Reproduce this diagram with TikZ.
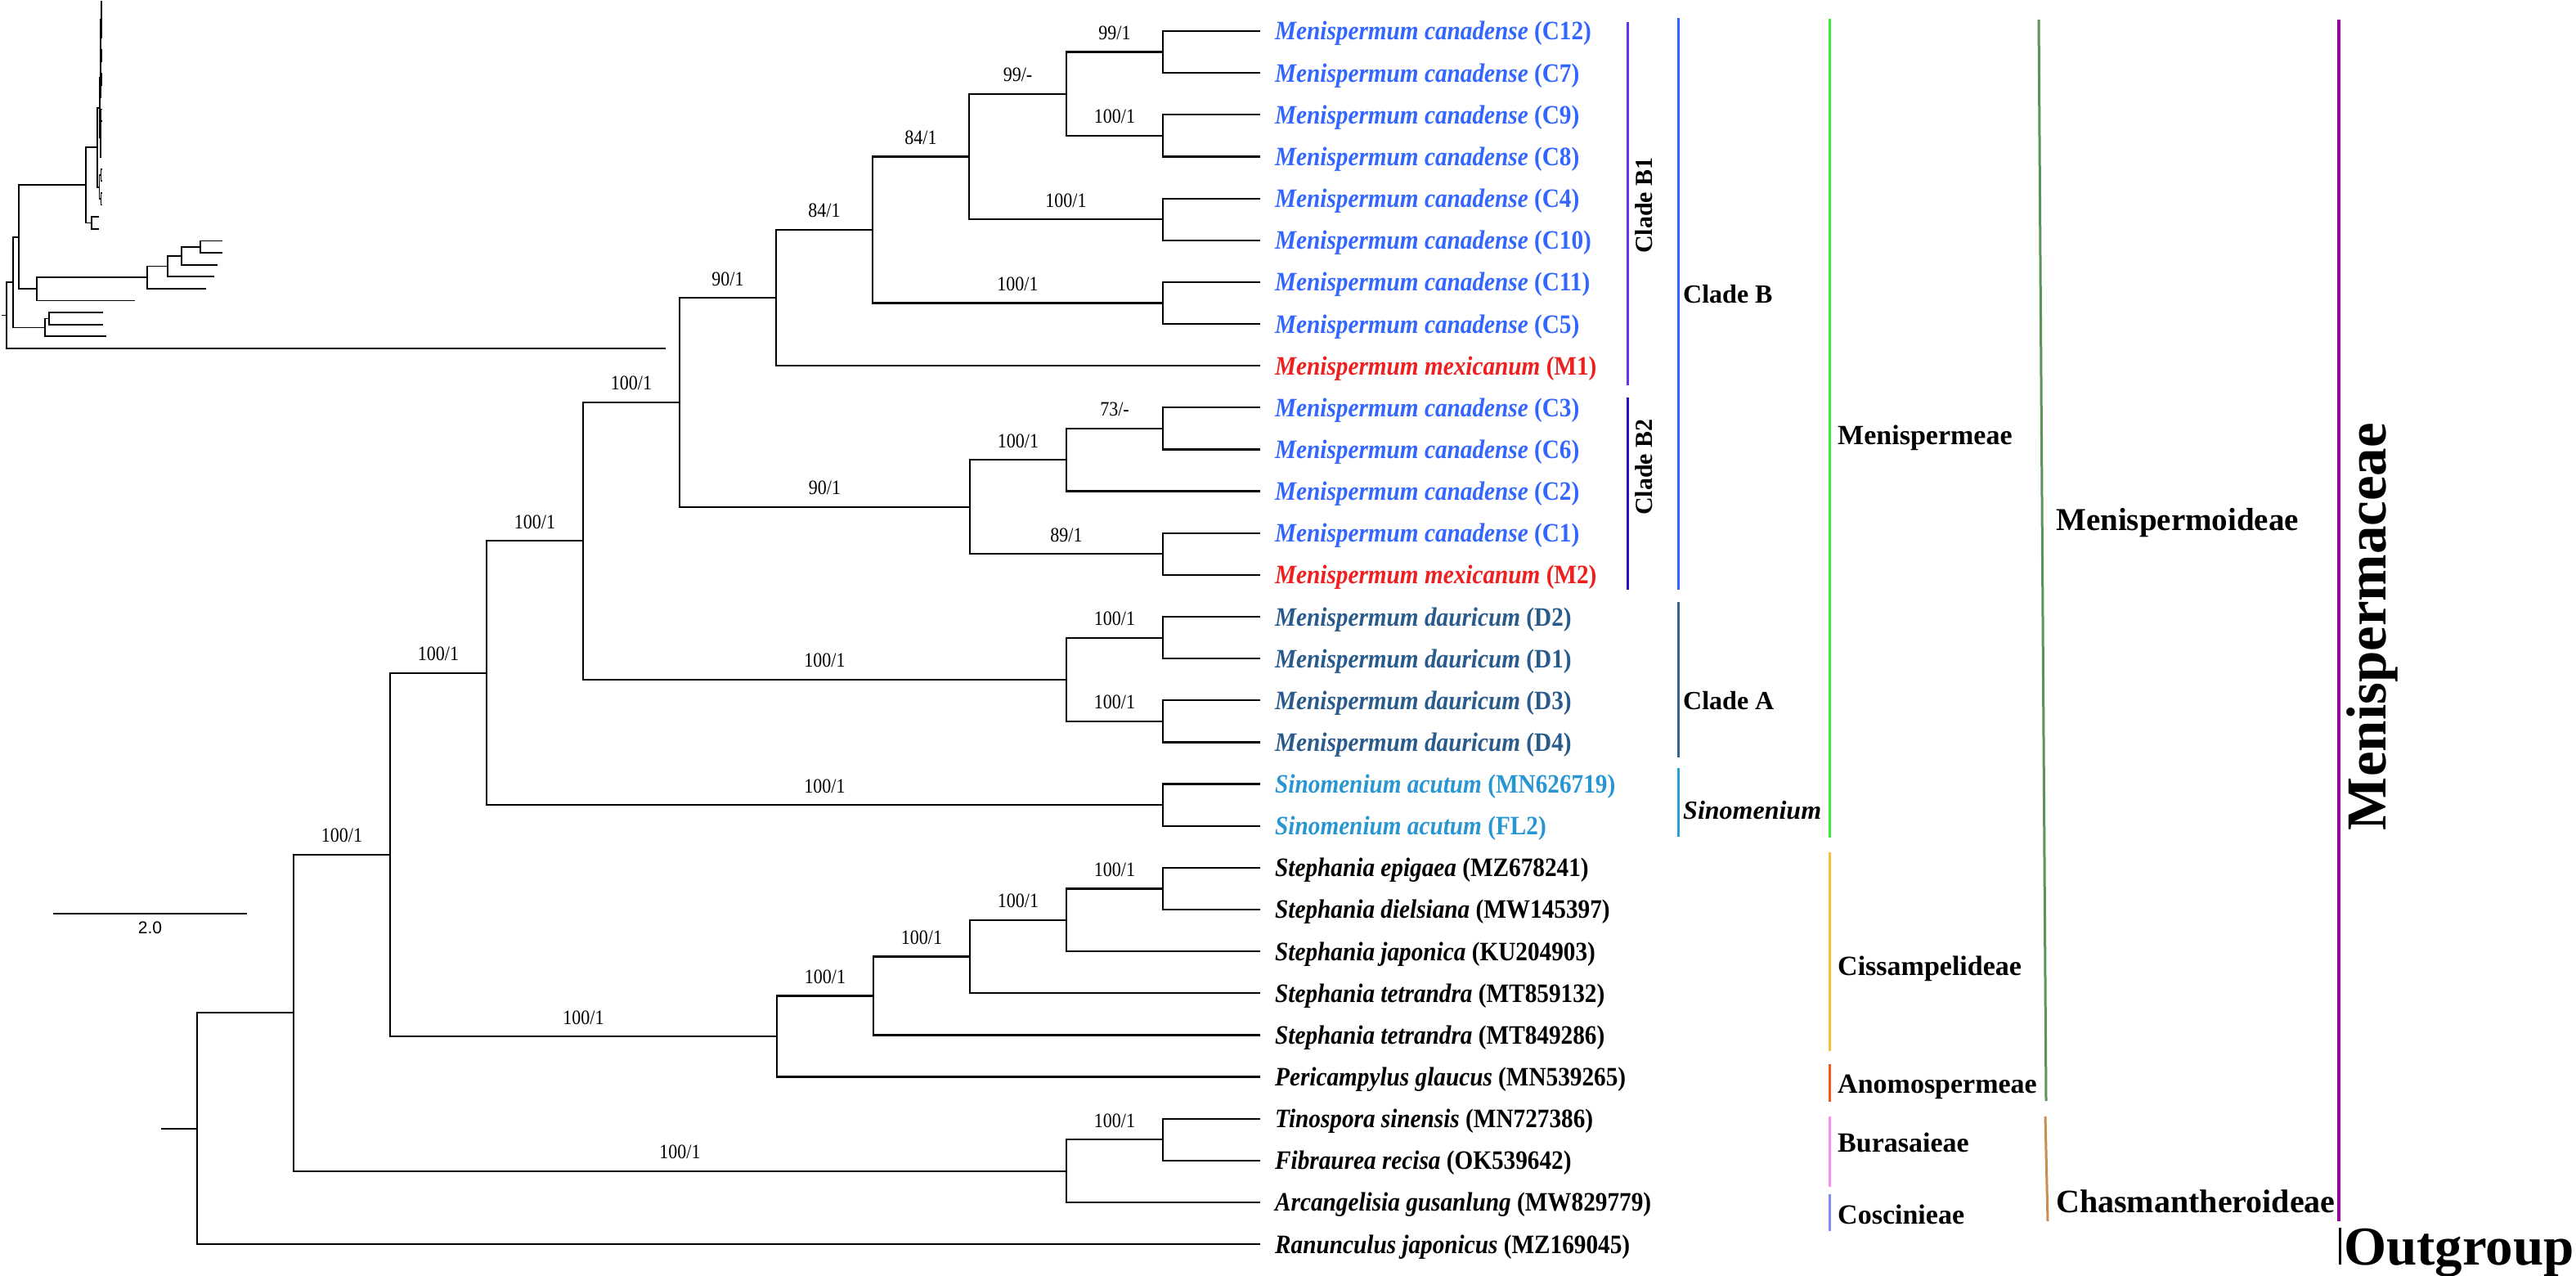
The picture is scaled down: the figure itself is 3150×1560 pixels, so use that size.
\documentclass[tikz,border=0pt]{standalone}
\usepackage{fontspec}
\setmainfont{Liberation Serif}
\newfontfamily\arialfont{Liberation Sans}
\newfontfamily\leaffont[FakeStretch=0.9]{Liberation Serif}
\newfontfamily\bsfont[FakeStretch=0.88]{Liberation Serif}
\usetikzlibrary{calc}
\definecolor{cCan}{RGB}{51,102,255}
\definecolor{cMex}{RGB}{240,30,30}
\definecolor{cDau}{RGB}{40,90,140}
\definecolor{cSin}{RGB}{40,150,210}
\definecolor{bBone}{RGB}{100,50,240}
\definecolor{bB}{RGB}{50,100,255}
\definecolor{bBtwo}{RGB}{35,15,200}
\definecolor{bA}{RGB}{50,100,150}
\definecolor{bSin}{RGB}{40,160,220}
\definecolor{bMen}{RGB}{60,235,60}
\definecolor{bCis}{RGB}{250,190,50}
\definecolor{bAno}{RGB}{245,85,30}
\definecolor{bBur}{RGB}{250,140,240}
\definecolor{bCos}{RGB}{130,140,240}
\definecolor{bMoi}{RGB}{90,150,90}
\definecolor{bCha}{RGB}{205,140,80}
\definecolor{bFam}{RGB}{150,0,150}
\newcommand\tleaf[5]{\coordinate (#1) at (1541,#2);
  \node[leaflab,text=#3] (#1t) at (1559,#2) {\textbf{\textit{#4}} \textbf{(#5)}};}
\newcommand\bsl[3]{\path (#1 |- #2) -- node[bslab]{#3} (#2);}
\newcommand\ibr[2]{\draw[ibr] (#1) |- (#2);}
\begin{document}
\begin{tikzpicture}[x=1pt,y=-1pt,
  br/.style={line width=2.2pt},
  ibr/.style={line width=1.8pt},
  leaflab/.style={anchor=base west,yshift=-11pt,inner sep=0pt,font=\leaffont\fontsize{32.5}{36}\selectfont},
  bslab/.style={anchor=base,yshift=15pt,inner sep=0pt,font=\bsfont\fontsize{25}{28}\selectfont},
  cbar/.style={line width=3pt},
  grplab/.style={anchor=base west,inner sep=0pt,font=\fontsize{32}{36}\selectfont\bfseries},
  triblab/.style={anchor=base west,inner sep=0pt,font=\fontsize{34}{38}\selectfont\bfseries},
  sublab/.style={anchor=base west,inner sep=0pt,font=\fontsize{39}{44}\selectfont\bfseries}]
\fill[white] (0,0) rectangle (3150,1560);
\useasboundingbox (0,0) rectangle (3150,1560);
% ---------- leaves ----------
\tleaf{l0}{38.0}{cCan}{Menispermum canadense}{C12}
\tleaf{l1}{89.1}{cCan}{Menispermum canadense}{C7}
\tleaf{l2}{140.3}{cCan}{Menispermum canadense}{C9}
\tleaf{l3}{191.4}{cCan}{Menispermum canadense}{C8}
\tleaf{l4}{242.6}{cCan}{Menispermum canadense}{C4}
\tleaf{l5}{293.7}{cCan}{Menispermum canadense}{C10}
\tleaf{l6}{344.8}{cCan}{Menispermum canadense}{C11}
\tleaf{l7}{396.0}{cCan}{Menispermum canadense}{C5}
\tleaf{l8}{447.1}{cMex}{Menispermum mexicanum}{M1}
\tleaf{l9}{498.3}{cCan}{Menispermum canadense}{C3}
\tleaf{l10}{549.4}{cCan}{Menispermum canadense}{C6}
\tleaf{l11}{600.5}{cCan}{Menispermum canadense}{C2}
\tleaf{l12}{651.7}{cCan}{Menispermum canadense}{C1}
\tleaf{l13}{702.8}{cMex}{Menispermum mexicanum}{M2}
\tleaf{l14}{754.0}{cDau}{Menispermum dauricum}{D2}
\tleaf{l15}{805.1}{cDau}{Menispermum dauricum}{D1}
\tleaf{l16}{856.2}{cDau}{Menispermum dauricum}{D3}
\tleaf{l17}{907.4}{cDau}{Menispermum dauricum}{D4}
\tleaf{l18}{958.5}{cSin}{Sinomenium acutum}{MN626719}
\tleaf{l19}{1009.7}{cSin}{Sinomenium acutum}{FL2}
\tleaf{l20}{1060.8}{black}{Stephania epigaea}{MZ678241}
\tleaf{l21}{1111.9}{black}{Stephania dielsiana}{MW145397}
\tleaf{l22}{1163.1}{black}{Stephania japonica}{KU204903}
\tleaf{l23}{1214.2}{black}{Stephania tetrandra}{MT859132}
\tleaf{l24}{1265.4}{black}{Stephania tetrandra}{MT849286}
\tleaf{l25}{1316.5}{black}{Pericampylus glaucus}{MN539265}
\tleaf{l26}{1367.6}{black}{Tinospora sinensis}{MN727386}
\tleaf{l27}{1418.8}{black}{Fibraurea recisa}{OK539642}
\tleaf{l28}{1469.9}{black}{Arcangelisia gusanlung}{MW829779}
\tleaf{l29}{1521.1}{black}{Ranunculus japonicus}{MZ169045}
% ---------- internal nodes ----------
\coordinate (nCa) at (1422,63.6);
\coordinate (nCb) at (1422,165.9);
\coordinate (nC99) at (1304,114.7);
\coordinate (nCc) at (1422,268.2);
\coordinate (nC84a) at (1185,191.4);
\coordinate (nCd) at (1422,370.4);
\coordinate (nC84b) at (1067,280.9);
\coordinate (nC90) at (949,364.0);
\coordinate (nC73) at (1422,523.9);
\coordinate (nBtwoa) at (1304,562.2);
\coordinate (nC89) at (1422,677.3);
\coordinate (nBtwo) at (1186,619.7);
\coordinate (nB) at (831,491.9);
\coordinate (nDa) at (1422,779.6);
\coordinate (nDb) at (1422,881.8);
\coordinate (nA) at (1304,830.7);
\coordinate (nBA) at (713,661.3);
\coordinate (nSino) at (1422,984.1);
\coordinate (nMen) at (595,822.7);
\coordinate (nSta) at (1422,1086.4);
\coordinate (nStb) at (1304,1124.7);
\coordinate (nStc) at (1186,1169.5);
\coordinate (nStd) at (1068,1217.4);
\coordinate (nCiss) at (950,1267.0);
\coordinate (nMC) at (477,1044.8);
\coordinate (nTF) at (1422,1393.2);
\coordinate (nChas) at (1304,1431.6);
\coordinate (nIn) at (359,1238.2);
\coordinate (nRoot) at (241,1379.6);
\coordinate (rstub) at (197,1379.6);
% ---------- branches ----------
\foreach \p/\c in {nCa/l0,nCa/l1,nCb/l2,nCb/l3,nC99/nCa,nC99/nCb,nCc/l4,nCc/l5,
  nC84a/nC99,nC84a/nCc,nCd/l6,nCd/l7,nC84b/nC84a,nC84b/nCd,nC90/nC84b,nC90/l8,
  nC73/l9,nC73/l10,nBtwoa/nC73,nBtwoa/l11,nC89/l12,nC89/l13,nBtwo/nBtwoa,nBtwo/nC89,
  nB/nC90,nB/nBtwo,nDa/l14,nDa/l15,nDb/l16,nDb/l17,nA/nDa,nA/nDb,nBA/nB,nBA/nA,
  nSino/l18,nSino/l19,nMen/nBA,nMen/nSino,nSta/l20,nSta/l21,nStb/nSta,nStb/l22,
  nStc/nStb,nStc/l23,nStd/nStc,nStd/l24,nCiss/nStd,nCiss/l25,nMC/nMen,nMC/nCiss,
  nTF/l26,nTF/l27,nChas/nTF,nChas/l28,nIn/nMC,nIn/nChas,nRoot/nIn,nRoot/l29}
  {\draw[br] (\p) |- (\c);}
\draw[br] (rstub) -- (nRoot);
% ---------- support values ----------
\bsl{nC99}{nCa}{99/1}
\bsl{nC99}{nCb}{100/1}
\bsl{nC84a}{nC99}{99/-}
\bsl{nC84a}{nCc}{100/1}
\bsl{nC84b}{nC84a}{84/1}
\bsl{nC84b}{nCd}{100/1}
\bsl{nC90}{nC84b}{84/1}
\bsl{nB}{nC90}{90/1}
\bsl{nBtwoa}{nC73}{73/-}
\bsl{nBtwo}{nBtwoa}{100/1}
\bsl{nBtwo}{nC89}{89/1}
\bsl{nB}{nBtwo}{90/1}
\bsl{nBA}{nB}{100/1}
\bsl{nA}{nDa}{100/1}
\bsl{nA}{nDb}{100/1}
\bsl{nBA}{nA}{100/1}
\bsl{nMen}{nBA}{100/1}
\bsl{nMen}{nSino}{100/1}
\bsl{nMC}{nMen}{100/1}
\bsl{nStb}{nSta}{100/1}
\bsl{nStc}{nStb}{100/1}
\bsl{nStd}{nStc}{100/1}
\bsl{nCiss}{nStd}{100/1}
\bsl{nMC}{nCiss}{100/1}
\bsl{nIn}{nMC}{100/1}
\bsl{nChas}{nTF}{100/1}
\bsl{nIn}{nChas}{100/1}
% ---------- scale bar ----------
\coordinate (sba) at (65,1117);
\coordinate (sbb) at (302,1117);
\draw[line width=2pt] (sba) -- node[below=9pt,inner sep=0pt,font=\arialfont\fontsize{21}{24}\selectfont] (sbl) {2.0} (sbb);
% ---------- inset phylogram ----------
\begin{scope}
\coordinate (i0) at (124.5,2); \coordinate (i1) at (124.5,16.62);
\coordinate (i2) at (124.4,31.24); \coordinate (i3) at (124.4,45.86);
\coordinate (i4) at (124.3,60.48); \coordinate (i5) at (124.3,75.10);
\coordinate (i6) at (124.2,89.72); \coordinate (i7) at (124.2,104.34);
\coordinate (i8) at (124,118.96); \coordinate (i9) at (124,133.58);
\coordinate (i10) at (124,148.2); \coordinate (i11) at (123.8,162.82);
\coordinate (i12) at (123.8,177.44); \coordinate (i13) at (123.6,192.06);
\coordinate (i14) at (124,206.68); \coordinate (i15) at (124,221.3);
\coordinate (i16) at (124,235.92); \coordinate (i17) at (124,250.54);
\coordinate (i18) at (121,265.16); \coordinate (i19) at (121,279.78);
\coordinate (i20) at (272,294.4); \coordinate (i21) at (272,309.02);
\coordinate (i22) at (266,323.64); \coordinate (i23) at (262,338.26);
\coordinate (i24) at (252,352.88); \coordinate (i25) at (165,367.5);
\coordinate (i26) at (126,382.12); \coordinate (i27) at (126,396.74);
\coordinate (i28) at (130,411.36); \coordinate (i29) at (814,425.98);
\coordinate (jCa) at (124,9.31); \coordinate (jCb) at (124,38.55);
\coordinate (jC99) at (123.6,23.93); \coordinate (jCc) at (123.8,67.79);
\coordinate (jC84a) at (123.3,45.86); \coordinate (jCd) at (123.8,97.03);
\coordinate (jC84b) at (123,71.45); \coordinate (jC90) at (122.6,95.2);
\coordinate (jC73) at (123.5,140.89); \coordinate (jBtwoa) at (123.2,151.86);
\coordinate (jC89) at (123.3,184.75); \coordinate (jBtwo) at (122.8,168.3);
\coordinate (jB) at (122,131.75); \coordinate (jDa) at (123.5,213.99);
\coordinate (jDb) at (123.5,243.23); \coordinate (jA) at (121.5,228.61);
\coordinate (jBA) at (119,180.18); \coordinate (jSino) at (112,272.47);
\coordinate (jMen) at (105,226.33); \coordinate (jSta) at (245,301.71);
\coordinate (jStb) at (222,312.68); \coordinate (jStc) at (205,325.47);
\coordinate (jStd) at (180,339.18); \coordinate (jCiss) at (45,353.34);
\coordinate (jMC) at (23,289.84); \coordinate (jTF) at (60,389.43);
\coordinate (jChas) at (55,400.4); \coordinate (jIn) at (16,345.12);
\coordinate (jRoot) at (8,385.55); \coordinate (jstub) at (2,385.55);
\foreach \p/\c in {jCa/i0,jCa/i1,jCb/i2,jCb/i3,jC99/jCa,jC99/jCb,jCc/i4,jCc/i5,
  jC84a/jC99,jC84a/jCc,jCd/i6,jCd/i7,jC84b/jC84a,jC84b/jCd,jC90/jC84b,jC90/i8,
  jC73/i9,jC73/i10,jBtwoa/jC73,jBtwoa/i11,jC89/i12,jC89/i13,jBtwo/jBtwoa,jBtwo/jC89,
  jB/jC90,jB/jBtwo,jDa/i14,jDa/i15,jDb/i16,jDb/i17,jA/jDa,jA/jDb,jBA/jB,jBA/jA,
  jSino/i18,jSino/i19,jMen/jBA,jMen/jSino,jSta/i20,jSta/i21,jStb/jSta,jStb/i22,
  jStc/jStb,jStc/i23,jStd/jStc,jStd/i24,jCiss/jStd,jCiss/i25,jMC/jMen,jMC/jCiss,
  jTF/i26,jTF/i27,jChas/jTF,jChas/i28,jIn/jMC,jIn/jChas,jRoot/jIn,jRoot/i29}
  {\ibr{\p}{\c}}
\draw[ibr] (jstub) -- (jRoot);
\end{scope}
% ---------- clade bars ----------
\coordinate (bBonea) at (1990,27); \coordinate (bBoneb) at (1990,471);
\draw[cbar,bBone] (bBonea) -- (bBoneb);
\node[rotate=90,inner sep=0pt,font=\fontsize{30}{34}\selectfont\bfseries] (tBone) at (2010,251) {Clade B1};
\coordinate (bBtwoa) at (1990,486); \coordinate (bBtwob) at (1990,721);
\draw[cbar,bBtwo] (bBtwoa) -- (bBtwob);
\node[rotate=90,inner sep=0pt,font=\fontsize{30}{34}\selectfont\bfseries] (tBtwo) at (2010,571) {Clade B2};
\coordinate (bBa) at (2052,22); \coordinate (bBb) at (2052,721);
\draw[cbar,bB] (bBa) -- (bBb);
\node[grplab] (tB) at (2058,370) {Clade B};
\coordinate (bAa) at (2052,736); \coordinate (bAb) at (2052,926);
\draw[cbar,bA] (bAa) -- (bAb);
\node[grplab] (tA) at (2058,867) {Clade A};
\coordinate (bSa) at (2052,939); \coordinate (bSb) at (2052,1023);
\draw[cbar,bSin] (bSa) -- (bSb);
\node[grplab,font=\fontsize{32}{36}\selectfont\bfseries\itshape] (tS) at (2058,1001) {Sinomenium};
% tribes
\coordinate (tMa) at (2237,23); \coordinate (tMb) at (2237,1024);
\draw[cbar,bMen] (tMa) -- (tMb);
\node[triblab] (ttM) at (2247,543) {Menispermeae};
\coordinate (tCa) at (2237,1042); \coordinate (tCb) at (2237,1285);
\draw[cbar,bCis] (tCa) -- (tCb);
\node[triblab] (ttC) at (2247,1192) {Cissampelideae};
\coordinate (tAa) at (2237,1301); \coordinate (tAb) at (2237,1347);
\draw[cbar,bAno] (tAa) -- (tAb);
\node[triblab] (ttA) at (2247,1336) {Anomospermeae};
\coordinate (tBa) at (2237,1365); \coordinate (tBb) at (2237,1451);
\draw[cbar,bBur] (tBa) -- (tBb);
\node[triblab] (ttB) at (2247,1408) {Burasaieae};
\coordinate (tKa) at (2237,1460); \coordinate (tKb) at (2237,1505);
\draw[cbar,bCos] (tKa) -- (tKb);
\node[triblab] (ttK) at (2247,1496) {Coscinieae};
% subfamilies
\coordinate (sMa) at (2493,24); \coordinate (sMb) at (2502,1346);
\draw[cbar,bMoi] (sMa) -- (sMb);
\node[sublab] (tsM) at (2514,648) {Menispermoideae};
\coordinate (sCa) at (2501,1365); \coordinate (sCb) at (2504,1493);
\draw[cbar,bCha] (sCa) -- (sCb);
\node[sublab,font=\fontsize{40}{44}\selectfont\bfseries] (tsC) at (2514,1482) {Chasmantheroideae};
% family
\coordinate (fMa) at (2860,24); \coordinate (fMb) at (2860,1493);
\draw[line width=3.2pt,bFam] (fMa) -- (fMb);
\node[rotate=90,inner sep=0pt,font=\fontsize{69}{76}\selectfont\bfseries] (tFam) at (2901,766) {Menispermaceae};
\coordinate (oGa) at (2861,1501); \coordinate (oGb) at (2861,1546);
\draw[line width=3pt,black] (oGa) -- (oGb);
\node[anchor=base west,inner sep=0pt,font=\fontsize{67}{72}\selectfont\bfseries] (tOut) at (2866,1546) {Outgroup};
\end{tikzpicture}
\end{document}
